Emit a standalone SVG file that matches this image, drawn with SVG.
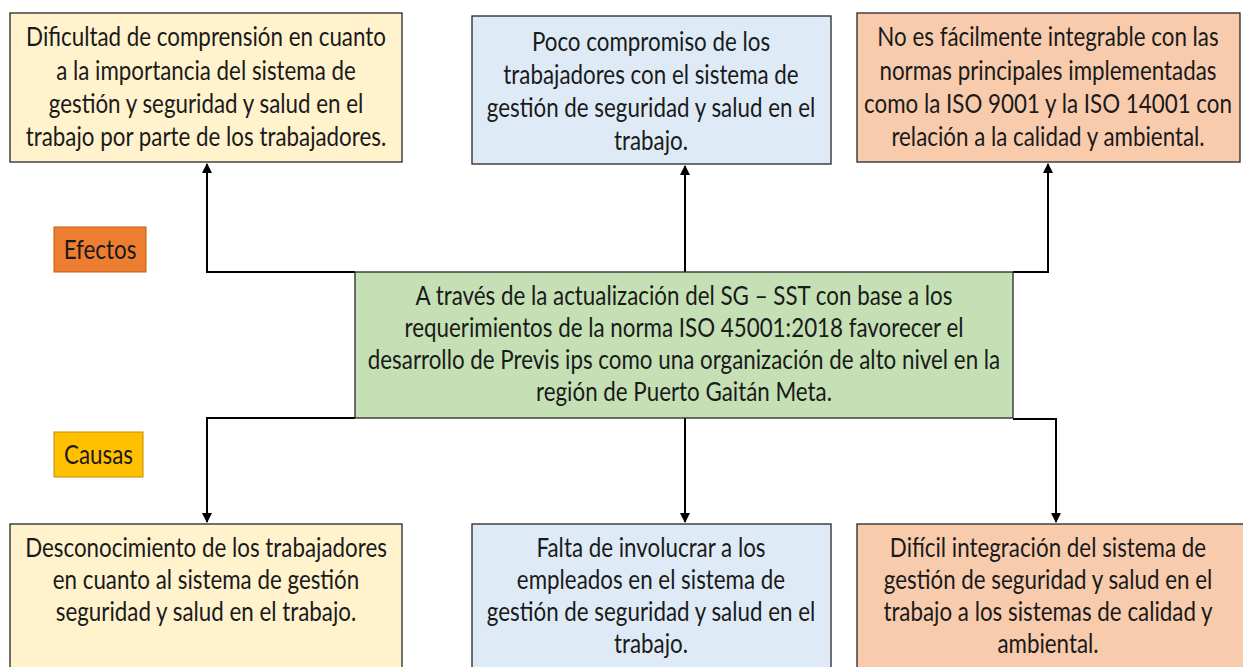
<svg xmlns="http://www.w3.org/2000/svg" width="1243" height="667" viewBox="0 0 1243 667">
<style>
.box{stroke:#262626;stroke-width:1.3}
.y{fill:#FFF2CC}.b{fill:#DEEBF7}.o{fill:#F8CBAD}.g{fill:#C5E0B4}
text{font-family:Lato,"Open Sans",sans-serif;font-size:26px;fill:#1a1a1a;text-anchor:middle}
.c{fill:none;stroke:#000;stroke-width:2}
</style>
<defs>
<marker id="ah" viewBox="0 0 10 10" refX="9" refY="5" markerWidth="5" markerHeight="5" orient="auto-start-reverse" markerUnits="strokeWidth"><path d="M0,0 L10,5 L0,10 z" fill="#000"/></marker>
</defs>
<g id="connectors">
<path class="c" d="M355,272 H207 V164" marker-end="url(#ah)"/>
<path class="c" d="M685,272 V166" marker-end="url(#ah)"/>
<path class="c" d="M1013,272 H1048 V164" marker-end="url(#ah)"/>
<path class="c" d="M355,418 H207 V522" marker-end="url(#ah)"/>
<path class="c" d="M685,418 V522" marker-end="url(#ah)"/>
<path class="c" d="M1013,419 H1056 V522" marker-end="url(#ah)"/>
</g>
<g id="e1"><rect class="box y" x="10" y="13" width="392" height="149"/>
<text transform="translate(206 0) scale(0.86 1)" x="0" y="46">Dificultad de comprensión en cuanto</text>
<text transform="translate(206 0) scale(0.86 1)" x="0" y="80">a la importancia del sistema de</text>
<text transform="translate(206 0) scale(0.86 1)" x="0" y="113">gestión y seguridad y salud en el</text>
<text transform="translate(206 0) scale(0.86 1)" x="0" y="146">trabajo por parte de los trabajadores.</text></g>
<g id="e2"><rect class="box b" x="472" y="16" width="359" height="148"/>
<text transform="translate(651 0) scale(0.86 1)" x="0" y="51">Poco compromiso de los</text>
<text transform="translate(651 0) scale(0.86 1)" x="0" y="84">trabajadores con el sistema de</text>
<text transform="translate(651 0) scale(0.86 1)" x="0" y="117">gestión de seguridad y salud en el</text>
<text transform="translate(651 0) scale(0.86 1)" x="0" y="150">trabajo.</text></g>
<g id="e3"><rect class="box o" x="857" y="13" width="383" height="149"/>
<text transform="translate(1048 0) scale(0.86 1)" x="0" y="46">No es fácilmente integrable con las</text>
<text transform="translate(1048 0) scale(0.86 1)" x="0" y="80">normas principales implementadas</text>
<text transform="translate(1048 0) scale(0.86 1)" x="0" y="113">como la ISO 9001 y la ISO 14001 con</text>
<text transform="translate(1048 0) scale(0.86 1)" x="0" y="146">relación a la calidad y ambiental.</text></g>
<g id="efectos"><rect x="54" y="227" width="92" height="45" fill="#ED7D31" stroke="#C55A11" stroke-width="1"/>
<text transform="translate(100 0) scale(0.86 1)" x="0" y="259">Efectos</text></g>
<g id="causas"><rect x="54" y="432" width="89" height="45" fill="#FFC000" stroke="#BF9000" stroke-width="1"/>
<text transform="translate(98.5 0) scale(0.86 1)" x="0" y="464">Causas</text></g>
<g id="center"><rect class="box g" x="355" y="272" width="658" height="146"/>
<text transform="translate(684 0) scale(0.86 1)" x="0" y="305">A través de la actualización del SG – SST con base a los</text>
<text transform="translate(684 0) scale(0.86 1)" x="0" y="337">requerimientos de la norma ISO 45001:2018 favorecer el</text>
<text transform="translate(684 0) scale(0.86 1)" x="0" y="369">desarrollo de Previs ips como una organización de alto nivel en la</text>
<text transform="translate(684 0) scale(0.86 1)" x="0" y="401">región de Puerto Gaitán Meta.</text></g>
<g id="c1"><rect class="box y" x="10" y="524" width="392" height="150"/>
<text transform="translate(206 0) scale(0.86 1)" x="0" y="557">Desconocimiento de los trabajadores</text>
<text transform="translate(206 0) scale(0.86 1)" x="0" y="589">en cuanto al sistema de gestión</text>
<text transform="translate(206 0) scale(0.86 1)" x="0" y="621">seguridad y salud en el trabajo.</text></g>
<g id="c2"><rect class="box b" x="472" y="524" width="359" height="150"/>
<text transform="translate(651 0) scale(0.86 1)" x="0" y="557">Falta de involucrar a los</text>
<text transform="translate(651 0) scale(0.86 1)" x="0" y="589">empleados en el sistema de</text>
<text transform="translate(651 0) scale(0.86 1)" x="0" y="621">gestión de seguridad y salud en el</text>
<text transform="translate(651 0) scale(0.86 1)" x="0" y="653">trabajo.</text></g>
<g id="c3"><rect class="box o" x="857" y="524" width="390" height="150"/>
<text transform="translate(1048 0) scale(0.86 1)" x="0" y="557">Difícil integración del sistema de</text>
<text transform="translate(1048 0) scale(0.86 1)" x="0" y="589">gestión de seguridad y salud en el</text>
<text transform="translate(1048 0) scale(0.86 1)" x="0" y="621">trabajo a los sistemas de calidad y</text>
<text transform="translate(1048 0) scale(0.86 1)" x="0" y="653">ambiental.</text></g>
</svg>
